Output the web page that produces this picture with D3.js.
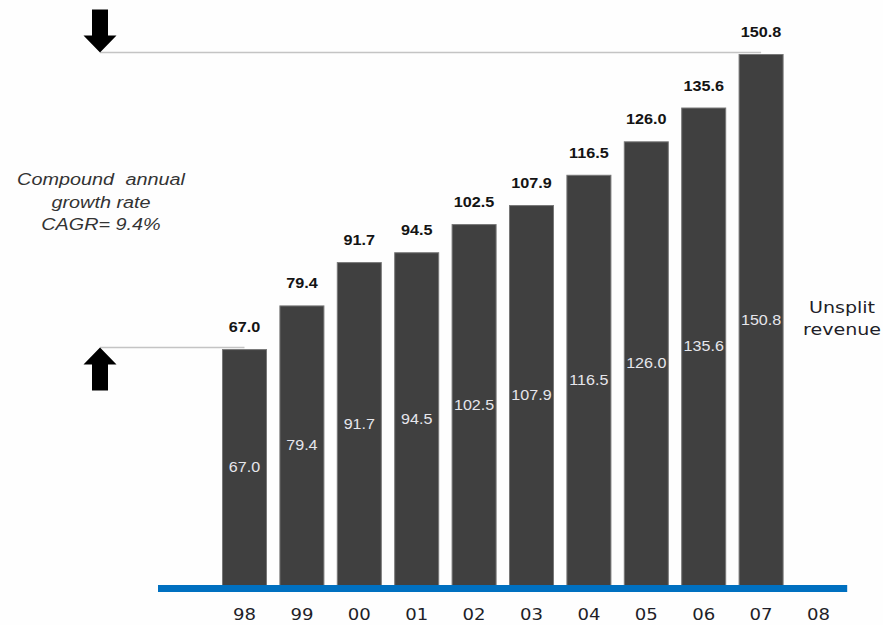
<!DOCTYPE html>
<html>
<head>
<meta charset="utf-8">
<script src="https://cdn.jsdelivr.net/npm/d3@7"></script>
<style>
  html, body { margin: 0; padding: 0; background: #fefefe; }
  svg { display: block; }
</style>
</head>
<body>
<svg id="chart" width="883" height="625"></svg>
<script>
// Revenue by year (unsplit), fiscal years 98 through 08
const years = ["98", "99", "00", "01", "02", "03", "04", "05", "06", "07", "08"];
const revenue = [67.0, 79.4, 91.7, 94.5, 102.5, 107.9, 116.5, 126.0, 135.6, 150.8];
const cagrLines = ["Compound annual", "growth rate", "CAGR= 9.4%"];
const sideLabel = ["Unsplit", "revenue"];

const svg = d3.select("#chart");

const x = d3.scaleBand()
  .domain(years)
  .range([215.8, 847.2])
  .paddingInner(0.216)
  .paddingOuter(0.108);

const y = d3.scaleLinear()
  .domain([0, 150.8])
  .range([585, 54]);

const bw = x.bandwidth();
const data = revenue.map((v, i) => ({ year: years[i], value: v }));

// bars
svg.append("g")
  .selectAll("rect")
  .data(data)
  .join("rect")
  .attr("x", d => x(d.year) + 0.5)
  .attr("y", d => y(d.value) + 0.5)
  .attr("width", bw - 1)
  .attr("height", d => y(0) - y(d.value))
  .attr("fill", "#404040")
  .attr("stroke", "#777")
  .attr("stroke-width", 1);

// value labels above bars
svg.append("g")
  .selectAll("text")
  .data(data)
  .join("text")
  .attr("transform", d => `translate(${x(d.year) + bw / 2},${y(d.value) - 17}) scale(1.08,1)`)
  .attr("text-anchor", "middle")
  .attr("font-family", "Liberation Sans, Arial, sans-serif")
  .attr("font-weight", "bold")
  .attr("font-size", 15)
  .attr("fill", "#141414")
  .text(d => d.value.toFixed(1));

// value labels inside bars
svg.append("g")
  .selectAll("text")
  .data(data)
  .join("text")
  .attr("transform", d => `translate(${x(d.year) + bw / 2},${(y(d.value) + y(0)) / 2 + 5}) scale(1.15,1)`)
  .attr("text-anchor", "middle")
  .attr("font-family", "Liberation Sans, Arial, sans-serif")
  .attr("font-size", 14)
  .attr("fill", "#e6e6ec")
  .text(d => d.value.toFixed(1));

// baseline
svg.append("rect")
  .attr("x", 158)
  .attr("y", y(0))
  .attr("width", x.range()[1] - 158)
  .attr("height", 7)
  .attr("fill", "#0070c0");

// year labels
svg.append("g")
  .selectAll("text")
  .data(years)
  .join("text")
  .attr("transform", d => `translate(${x(d) + bw / 2},620) scale(1.13,1)`)
  .attr("text-anchor", "middle")
  .attr("font-family", "DejaVu Sans, Verdana, sans-serif")
  .attr("font-size", 16)
  .attr("fill", "#1e1e28")
  .text(d => d);

// growth markers: connector lines and arrows
const first = data[0];
const last = data[data.length - 1];
const arrowX = 100;
const topY = y(last.value) - 1.5;
const lowY = y(first.value) - 1.5;

svg.append("line")
  .attr("x1", arrowX).attr("x2", x(last.year) + bw / 2)
  .attr("y1", topY).attr("y2", topY)
  .attr("stroke", "#c4c4c4").attr("stroke-width", 1.5);
svg.append("line")
  .attr("x1", arrowX).attr("x2", x(first.year) + bw / 2)
  .attr("y1", lowY).attr("y2", lowY)
  .attr("stroke", "#c4c4c4").attr("stroke-width", 1.5);

// arrow shape: tip at (0,0), pointing up; total length 43
const arrowPath = "M0,0 L16.5,17 L8,17 L8,43 L-8,43 L-8,17 L-16.5,17 Z";
svg.append("path")
  .attr("d", arrowPath)
  .attr("transform", `translate(${arrowX},${topY}) scale(1,-1)`)
  .attr("fill", "#000");
svg.append("path")
  .attr("d", arrowPath)
  .attr("transform", `translate(${arrowX},${lowY})`)
  .attr("fill", "#000");

// CAGR note
svg.append("g")
  .selectAll("text")
  .data(cagrLines)
  .join("text")
  .attr("transform", (d, i) => `translate(101,${185 + i * 22.5}) scale(1.2,1)`)
  .attr("text-anchor", "middle")
  .attr("font-family", "Liberation Sans, Arial, sans-serif")
  .attr("font-style", "italic")
  .attr("font-size", 16.5)
  .attr("word-spacing", (d, i) => i === 0 ? 5 : 0)
  .attr("fill", "#333")
  .text(d => d);

// side label
svg.append("g")
  .selectAll("text")
  .data(sideLabel)
  .join("text")
  .attr("transform", (d, i) => `translate(842,${313 + i * 22}) scale(1.19,1)`)
  .attr("text-anchor", "middle")
  .attr("font-family", "DejaVu Sans, Verdana, sans-serif")
  .attr("font-size", 16)
  .attr("fill", "#1e1e28")
  .text(d => d);
</script>
</body>
</html>
